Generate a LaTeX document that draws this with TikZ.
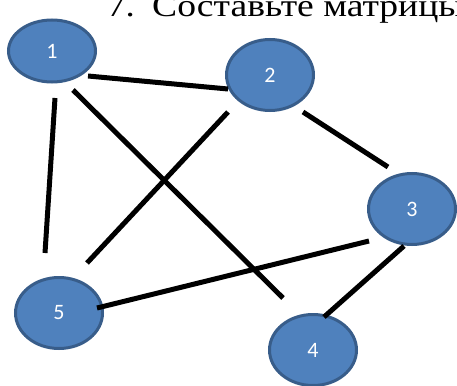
\documentclass[tikz,border=0pt]{standalone}
\usepackage{fontspec}
\setmainfont{Liberation Serif}
\newfontfamily\labelfont{Carlito}
\usetikzlibrary{shapes.geometric}
\definecolor{nodefill}{HTML}{4F81BD}
\definecolor{nodeedge}{HTML}{385D8A}
\tikzset{
  vertex/.style={ellipse, fill=nodefill, draw=nodeedge, line width=3pt,
    minimum width=87pt, minimum height=71pt, inner sep=0pt,
    text=white, font=\labelfont\fontsize{22}{22}\selectfont},
  edge/.style={line width=5pt, black, line cap=butt},
  titletext/.style={anchor=base west, inner sep=0pt, font=\fontsize{32}{32}\selectfont}
}
\begin{document}
\begin{tikzpicture}[x=1pt,y=-1pt]
\useasboundingbox (0,0) rectangle (457,385);
\node[titletext] (num) at (107,16.5) {\scalebox{1.15}[1]{7.}};
\node[titletext] (title) at (152,16.5) {\scalebox{1.175}[1]{Составьте матрицы}};
\node[vertex, minimum height=62pt] (n1) at (52,51) {\raisebox{-3pt}{1}};
\node[vertex] (n2) at (270,75) {\raisebox{-4pt}{2}};
\node[vertex] (n3) at (412,209) {\raisebox{-4pt}{3}};
\node[vertex] (n4) at (313,350) {\raisebox{-5pt}{4}};
\node[vertex] (n5) at (59,313) {\raisebox{-4pt}{5}};
\draw[edge] ([shift={(36,25)}]n1.center) -- ([shift={(-42,14)}]n2.center);
\draw[edge] ([shift={(3,47)}]n1.center) -- ([shift={(-14,-60)}]n5.center);
\draw[edge] ([shift={(21,39)}]n1.center) -- ([shift={(-30,-52)}]n4.center);
\draw[edge] ([shift={(-42,37)}]n2.center) -- ([shift={(28,-50)}]n5.center);
\draw[edge] ([shift={(33,37)}]n2.center) -- ([shift={(-24,-42)}]n3.center);
\draw[edge] ([shift={(-43,32)}]n3.center) -- ([shift={(38,-5)}]n5.center);
\draw[edge] ([shift={(-8,37)}]n3.center) -- ([shift={(11,-33)}]n4.center);
\end{tikzpicture}
\end{document}
